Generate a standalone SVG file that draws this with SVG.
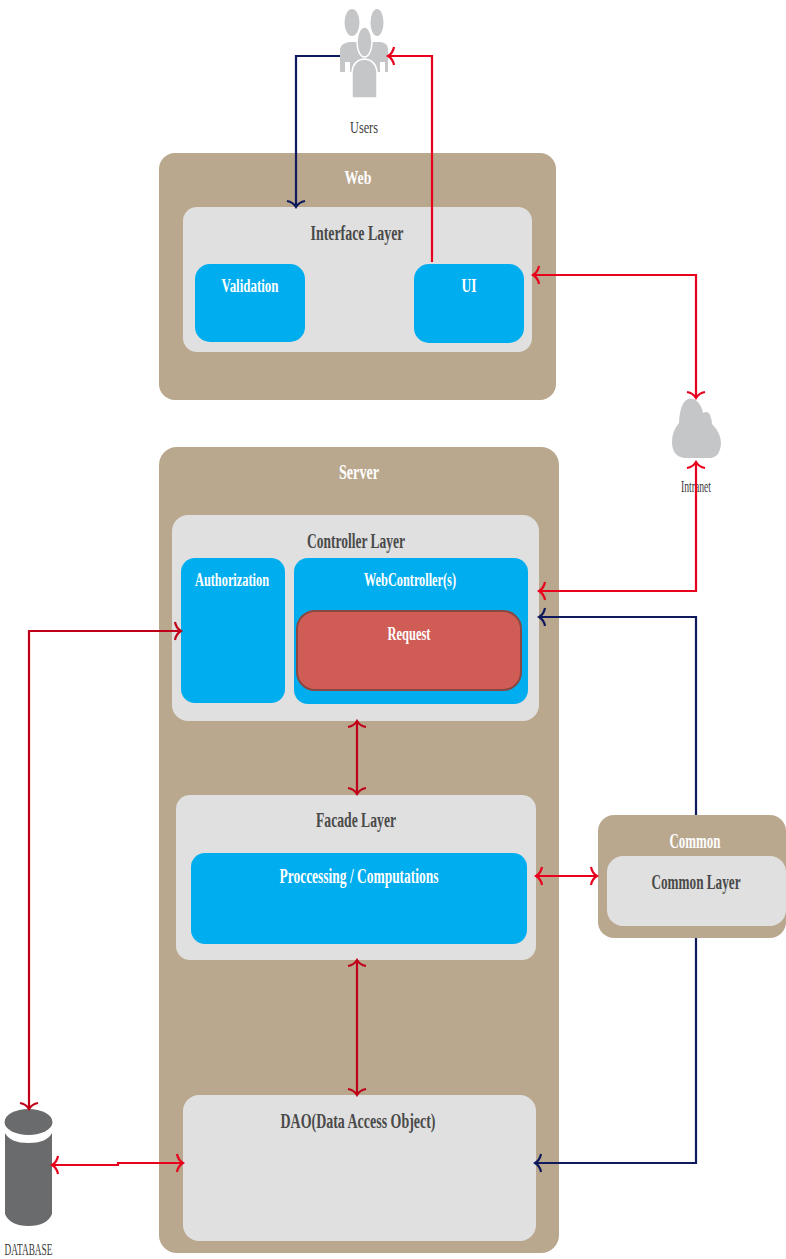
<svg xmlns="http://www.w3.org/2000/svg" width="786" height="1259" viewBox="0 0 786 1259">
<style>
text{font-family:"Liberation Serif","Times New Roman",serif;text-anchor:middle}
.w{fill:#fff;font-weight:bold}
.g{fill:#4a4a4a;font-weight:bold}
.n{fill:#3c3c3c}
.tan{fill:#b9a78e}
.lg{fill:#e0e0e0}
.bl{fill:#00adef}
.icon{fill:#c5c6c8}
.halo{fill:#c5c6c8;stroke:#fff;stroke-width:1.500}
.r{fill:none;stroke:#e8001c;stroke-width:2.200}
.r2{fill:none;stroke:#c00018;stroke-width:2.200}
.b{fill:none;stroke:#0f1a5c;stroke-width:2.200}
</style>
<defs>
<marker id="ar" viewBox="-9 -11 11 22" markerWidth="11" markerHeight="22" refX="0" refY="0" orient="auto-start-reverse" markerUnits="userSpaceOnUse"><path d="M-6-9Q-5-3 0 0Q-5 3-6 9" fill="none" stroke="#e8001c" stroke-width="2.200"/></marker>
<marker id="ad" viewBox="-9 -11 11 22" markerWidth="11" markerHeight="22" refX="0" refY="0" orient="auto-start-reverse" markerUnits="userSpaceOnUse"><path d="M-6-9Q-5-3 0 0Q-5 3-6 9" fill="none" stroke="#c00018" stroke-width="2.200"/></marker>
<marker id="ab" viewBox="-9 -11 11 22" markerWidth="11" markerHeight="22" refX="0" refY="0" orient="auto" markerUnits="userSpaceOnUse"><path d="M-6-9Q-5-3 0 0Q-5 3-6 9" fill="none" stroke="#0f1a5c" stroke-width="2.200"/></marker>
</defs>

<g id="users">
<ellipse class="icon" cx="352" cy="22.500" rx="7.500" ry="13.500"/><ellipse class="icon" cx="377" cy="22.500" rx="6.500" ry="13.500"/>
<path class="icon" d="M340 72V49Q341 43 350 42H380Q388 43 388 49V72H385V62H380V72H350V62H345V72Z"/>
<path class="halo" d="M352 98V72Q353 60 364.500 59Q376 60 377 72V98Z"/>
<ellipse class="halo" cx="364.500" cy="42" rx="7.500" ry="15"/>
<text class="n" x="364" y="133" font-size="17" textLength="28" lengthAdjust="spacingAndGlyphs">Users</text>
</g>

<g id="web">
<rect class="tan" x="159" y="153" width="397" height="247" rx="16"/>
<text class="w" x="358" y="184" font-size="19" textLength="27" lengthAdjust="spacingAndGlyphs">Web</text>
</g>
<g id="interface-layer">
<rect class="lg" x="183" y="207" width="349" height="145" rx="14"/>
<text class="g" x="357" y="240" font-size="20" textLength="93" lengthAdjust="spacingAndGlyphs">Interface Layer</text>
</g>
<g id="validation">
<rect class="bl" x="195" y="264" width="110" height="78" rx="15"/>
<text class="w" x="250" y="292" font-size="18" textLength="57" lengthAdjust="spacingAndGlyphs">Validation</text>
</g>
<g id="ui">
<rect class="bl" x="414" y="264" width="110" height="79" rx="15"/>
<text class="w" x="469" y="292" font-size="18" textLength="15" lengthAdjust="spacingAndGlyphs">UI</text>
</g>

<g id="intranet">
<path class="icon" d="M684 458Q672 456 672 442Q672 431 679 423Q680 400 690 398.500Q700 399 703 413Q708 410 710 415Q712 420 712 424Q721 433 721 444Q720 456 712 458Z"/>
<text class="n" x="696" y="492" font-size="16" textLength="30" lengthAdjust="spacingAndGlyphs">Intranet</text>
</g>

<g id="server">
<rect class="tan" x="159" y="447" width="400" height="806" rx="18"/>
<text class="w" x="359" y="479" font-size="20" textLength="40" lengthAdjust="spacingAndGlyphs">Server</text>
</g>
<g id="controller-layer">
<rect class="lg" x="172" y="515" width="367" height="206" rx="16"/>
<text class="g" x="356" y="548" font-size="20" textLength="98" lengthAdjust="spacingAndGlyphs">Controller Layer</text>
</g>
<g id="authorization">
<rect class="bl" x="181" y="558" width="104" height="145" rx="14"/>
<text class="w" x="232" y="586" font-size="18" textLength="74" lengthAdjust="spacingAndGlyphs">Authorization</text>
</g>
<g id="webcontrollers">
<rect class="bl" x="294" y="558" width="234" height="146" rx="14"/>
<text class="w" x="410" y="586" font-size="19" textLength="92" lengthAdjust="spacingAndGlyphs">WebController(s)</text>
</g>
<g id="request">
<rect x="297" y="611" width="224" height="79" rx="18" fill="#cf5d56" stroke="#8a4742" stroke-width="2"/>
<text class="w" x="409" y="640" font-size="18" textLength="43" lengthAdjust="spacingAndGlyphs">Request</text>
</g>
<g id="facade-layer">
<rect class="lg" x="176" y="795" width="360" height="165" rx="14"/>
<text class="g" x="356" y="827" font-size="20" textLength="80" lengthAdjust="spacingAndGlyphs">Facade Layer</text>
</g>
<g id="processing">
<rect class="bl" x="191" y="853" width="336" height="91" rx="14"/>
<text class="w" x="359" y="883" font-size="20" textLength="159" lengthAdjust="spacingAndGlyphs">Proccessing / Computations</text>
</g>
<g id="dao">
<rect class="lg" x="183" y="1095" width="353" height="146" rx="16"/>
<text class="g" x="358" y="1128" font-size="21" textLength="155" lengthAdjust="spacingAndGlyphs">DAO(Data Access Object)</text>
</g>
<g id="common">
<rect class="tan" x="598" y="815" width="188" height="123" rx="16"/>
<text class="w" x="695" y="848" font-size="20" textLength="51" lengthAdjust="spacingAndGlyphs">Common</text>
</g>
<g id="common-layer">
<rect class="lg" x="607" y="856" width="179" height="70" rx="16"/>
<text class="g" x="696" y="889" font-size="20" textLength="89" lengthAdjust="spacingAndGlyphs">Common Layer</text>
</g>
<g id="database">
<ellipse cx="28.500" cy="1122" rx="24" ry="13" fill="#6a6b6d"/>
<path d="M5 1133Q10 1143 28.500 1143Q47 1143 52 1133V1214Q47 1226 28.500 1226Q10 1226 5 1214Z" fill="#6a6b6d"/>
<text class="n" x="28.500" y="1255" font-size="16" textLength="48" lengthAdjust="spacingAndGlyphs">DATABASE</text>
</g>

<g id="connectors">
<path class="b" d="M340 56H296V207" marker-end="url(#ab)"/>
<path class="r" d="M432 262V56H388" marker-end="url(#ar)"/>
<path class="r" d="M533 275H696V398" marker-start="url(#ar)" marker-end="url(#ar)"/>
<path class="r" d="M696 462V591H539" marker-start="url(#ar)" marker-end="url(#ar)"/>
<path class="b" d="M696 815V617H539" marker-end="url(#ab)"/>
<path class="b" d="M696 938V1163H535" marker-end="url(#ab)"/>
<path class="r" d="M536 876H597" marker-start="url(#ar)" marker-end="url(#ar)"/>
<path class="r2" d="M357 721V794" marker-start="url(#ad)" marker-end="url(#ad)"/>
<path class="r2" d="M357 960V1095" marker-start="url(#ad)" marker-end="url(#ad)"/>
<path class="r2" d="M181 631H29V1109" marker-start="url(#ad)" marker-end="url(#ad)"/>
<path class="r" d="M52 1165H118V1163H183" marker-start="url(#ar)" marker-end="url(#ar)" stroke-width="2.800"/>
</g>
</svg>
